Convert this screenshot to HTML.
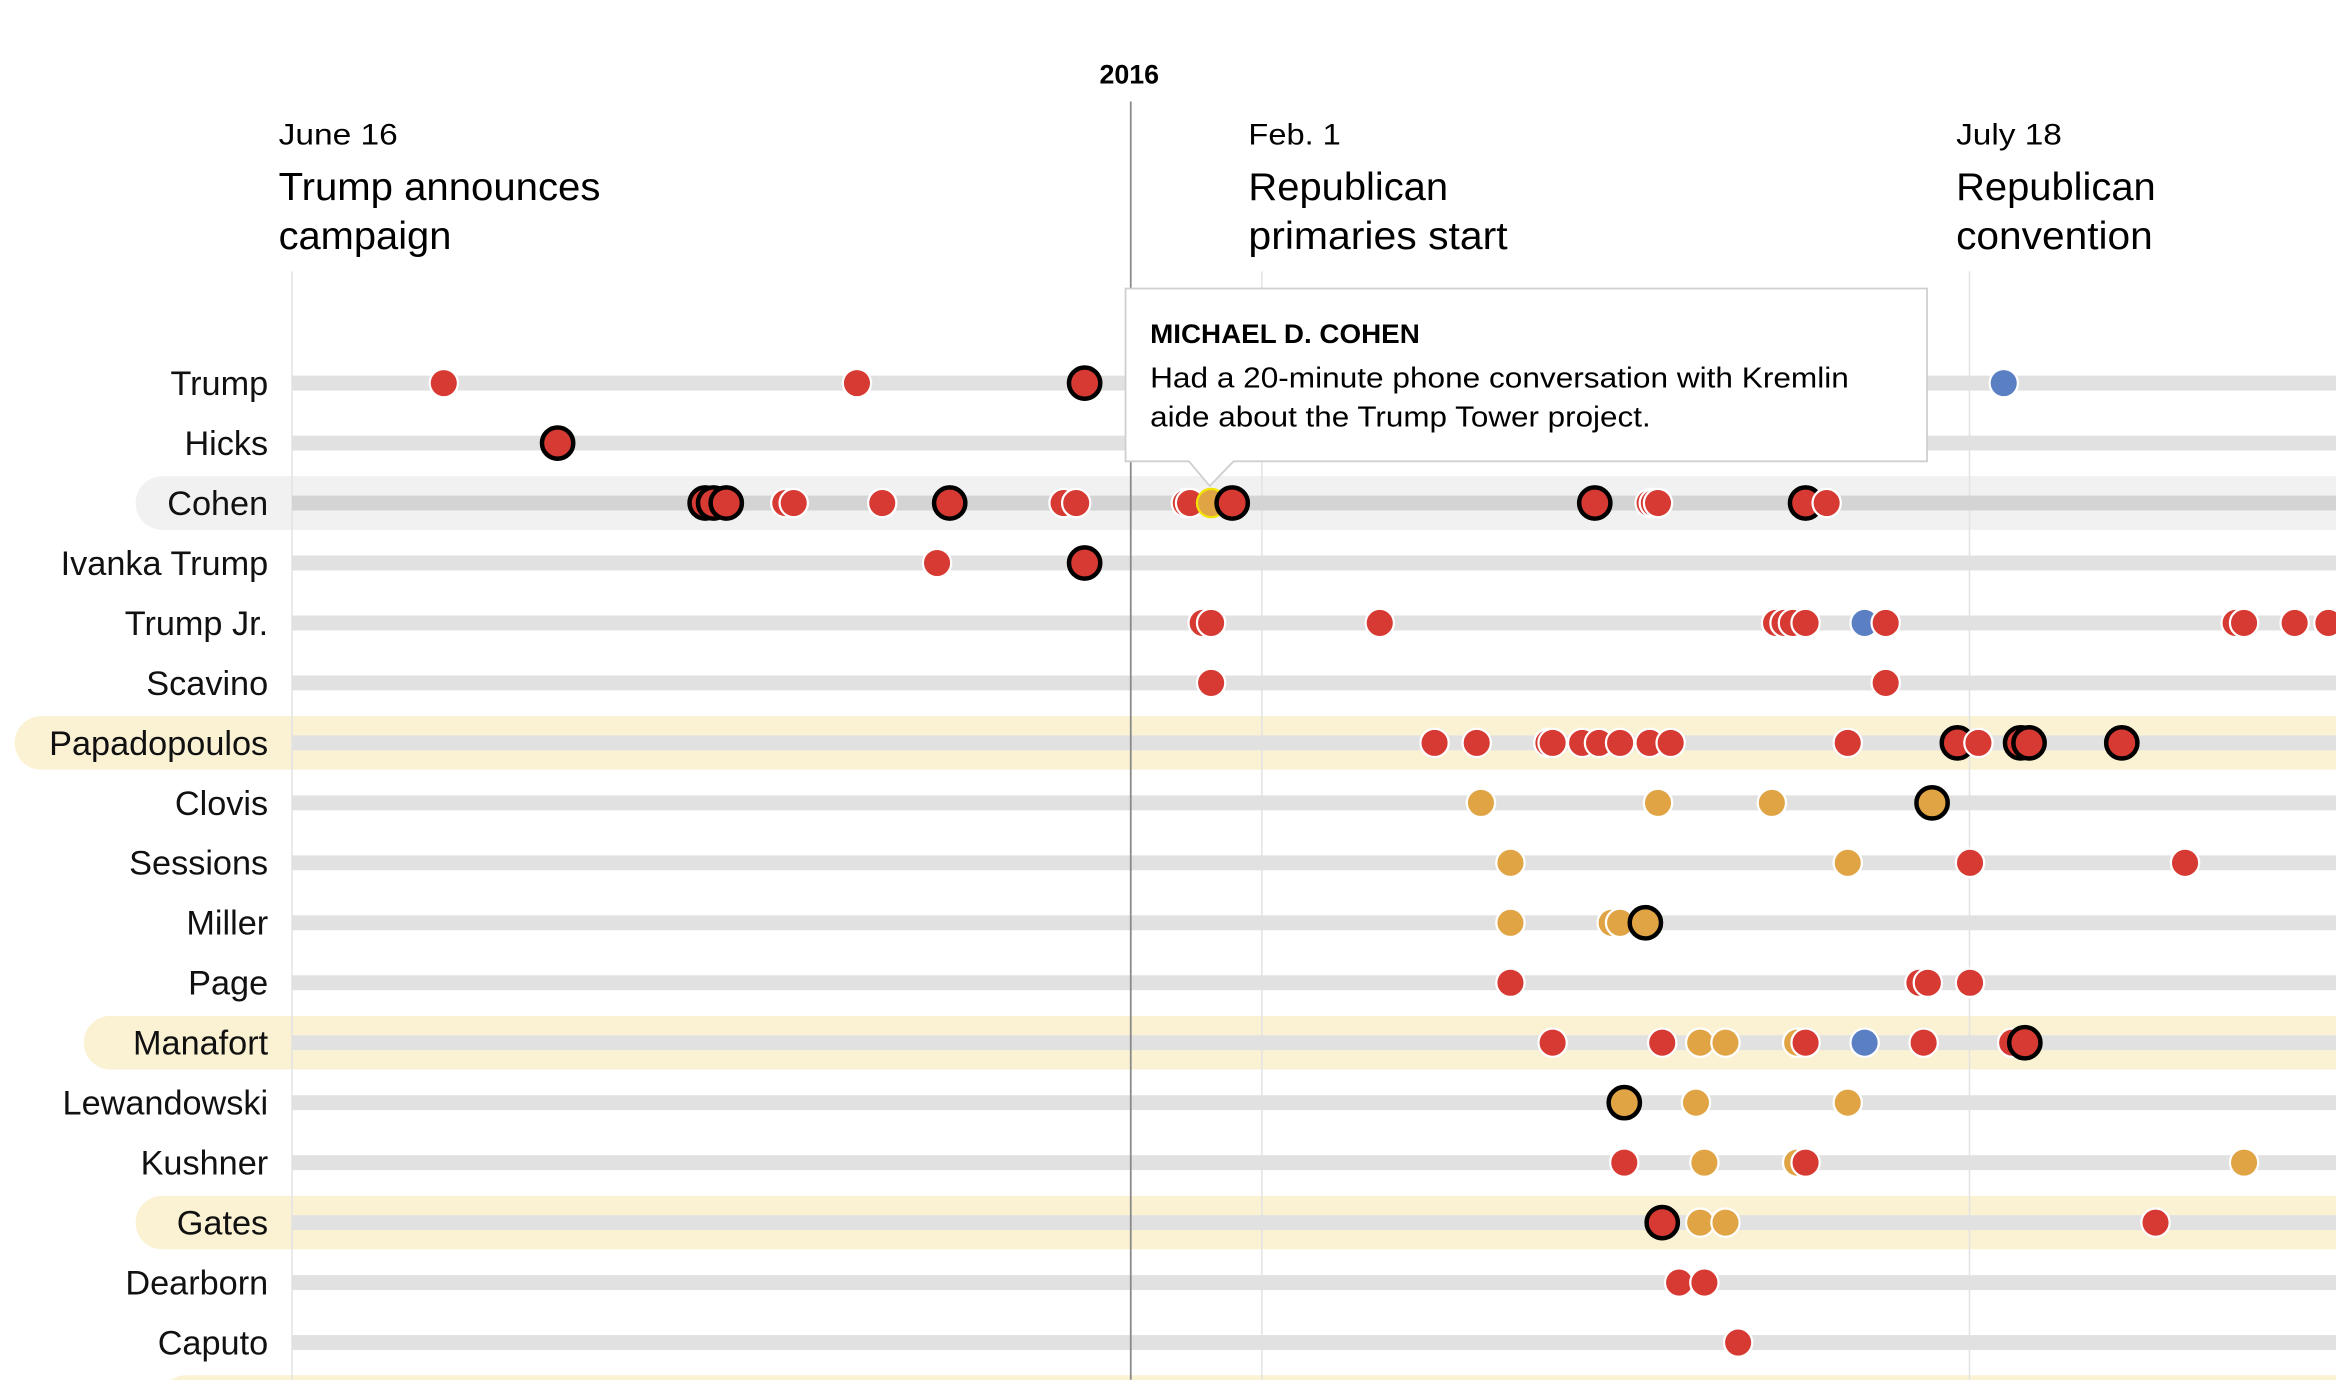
<!DOCTYPE html>
<html><head><meta charset="utf-8"><style>
html,body{margin:0;padding:0;background:#fff;}
svg{display:block;font-family:"Liberation Sans",sans-serif;}
</style></head><body>
<svg id="chart" width="2336" height="1380" viewBox="0 0 1568 926" xmlns="http://www.w3.org/2000/svg">
<g id="bands"></g>
<g id="grid">
<line x1="196" y1="182" x2="196" y2="926" stroke="#e2e2e2" stroke-width="1"/>
<line x1="847" y1="182" x2="847" y2="926" stroke="#e2e2e2" stroke-width="1"/>
<line x1="1322" y1="182" x2="1322" y2="926" stroke="#e2e2e2" stroke-width="1"/>
</g>
<g id="tracks"></g>
<line x1="759" y1="68" x2="759" y2="926" stroke="#8a8a8a" stroke-width="1.2"/>
<text x="758" y="56" text-anchor="middle" font-size="18" font-weight="bold">2016</text>
<g font-size="20">
<text x="187" y="97" textLength="80" lengthAdjust="spacingAndGlyphs">June 16</text>
<text x="187" y="134" font-size="26" textLength="216" lengthAdjust="spacingAndGlyphs">Trump announces</text>
<text x="187" y="167" font-size="26" textLength="116" lengthAdjust="spacingAndGlyphs">campaign</text>
</g>
<g font-size="20">
<text x="838" y="97" textLength="62" lengthAdjust="spacingAndGlyphs">Feb. 1</text>
<text x="838" y="134" font-size="26" textLength="134" lengthAdjust="spacingAndGlyphs">Republican</text>
<text x="838" y="167" font-size="26" textLength="174" lengthAdjust="spacingAndGlyphs">primaries start</text>
</g>
<g font-size="20">
<text x="1313" y="97" textLength="71" lengthAdjust="spacingAndGlyphs">July 18</text>
<text x="1313" y="134" font-size="26" textLength="134" lengthAdjust="spacingAndGlyphs">Republican</text>
<text x="1313" y="167" font-size="26" textLength="132" lengthAdjust="spacingAndGlyphs">convention</text>
</g>
<g id="labels"></g>
<g id="dots"></g>
<g>
<path d="M755.5,193.5 H1293.5 V309.5 H828 L812,326 L798,309.5 H755.5 Z" fill="#fff" stroke="#cfcfcf" stroke-width="1.2"/>
<text x="772" y="230" font-size="18" font-weight="bold" textLength="181" lengthAdjust="spacingAndGlyphs">MICHAEL D. COHEN</text>
<text x="772" y="260" font-size="19" textLength="469" lengthAdjust="spacingAndGlyphs">Had a 20-minute phone conversation with Kremlin</text>
<text x="772" y="286" font-size="19" textLength="336" lengthAdjust="spacingAndGlyphs">aide about the Trump Tower project.</text>
</g>
</svg>
<script>
const rowNames = ["Trump","Hicks","Cohen","Ivanka Trump","Trump Jr.","Scavino","Papadopoulos","Clovis","Sessions","Miller","Page","Manafort","Lewandowski","Kushner","Gates","Dearborn","Caputo"];
const rowHighlight = ["","","grey","","","","yellow","","","","","yellow","","","yellow","",""];
// days since June 16, 2015
const eventDays = [
 [36,134,188,406],
 [63],
 [98,100,103,117,119,140,156,183,186,212,213,218,223,309,322,323,324,359,364],
 [153,188],
 [216,218,258,352,354,356,359,373,378,461,463,475,483],
 [218,378],
 [271,281,298,299,306,310,315,322,327,369,395,400,410,412,434],
 [282,324,351,389],
 [289,369,398,449],
 [289,313,315,321],
 [289,386,388,398],
 [299,325,334,340,357,359,373,387,408,411],
 [316,333,369],
 [316,335,357,359,463],
 [325,334,340,442],
 [329,335],
 [343]
];
// r=red, o=orange, b=blue; K suffix = key (outlined) event
const eventTypes = [
 ["r","r","rK","b"],
 ["rK"],
 ["rK","rK","rK","r","r","r","rK","r","r","r","r","y","rK","rK","r","r","r","rK","r"],
 ["r","rK"],
 ["r","r","r","r","r","r","r","b","r","r","r","r","r"],
 ["r","r"],
 ["r","r","r","r","r","r","r","r","r","r","rK","r","rK","rK","rK"],
 ["o","o","o","oK"],
 ["o","o","r","r"],
 ["o","o","o","oK"],
 ["r","r","r","r"],
 ["r","r","o","o","o","r","b","r","r","rK"],
 ["oK","o","o"],
 ["r","o","o","r","o"],
 ["rK","o","o","r"],
 ["r","r"],
 ["r"]
];
const NS="http://www.w3.org/2000/svg";
function xScale(d){return 196 + d*2.83;}
function yScale(i){return 257 + i*40.25;}
const colors={r:"#d63a33",o:"#e0a445",b:"#5b7fc3",y:"#d63a33"};
const bands=document.getElementById("bands"),tracks=document.getElementById("tracks"),labels=document.getElementById("labels"),dots=document.getElementById("dots");
function mk(tag,attrs,parent){const e=document.createElementNS(NS,tag);for(const k in attrs)e.setAttribute(k,attrs[k]);parent.appendChild(e);return e;}
const nb=mk("rect",{x:107,y:923,width:1500,height:36,rx:18,fill:"#faf2d3"},bands);


rowNames.forEach((name,i)=>{
  const y=yScale(i);
  const h=rowHighlight[i];
  if(h){
    const tw = name.length*11.6+31;
    const bx = 180 - tw;
    const b=mk("rect",{x:bx,y:y-18,width:1600,height:36,rx:18,fill:h==="grey"?"#f1f1f1":"#faf2d3"},bands);
    
    
  }
  const t=mk("rect",{x:196,y:y-5,width:1372,height:10,fill:h==="grey"?"#d4d4d4":"#e1e1e1"},tracks);
  
  
  const l=mk("text",{x:180,y:y+8,"text-anchor":"end","font-size":"23",fill:"#111"},labels);
  l.textContent=name;
  
  
  eventDays[i].forEach((d,j)=>{
    const ty=eventTypes[i][j];
    const key=ty.endsWith("K");
    const c=colors[ty[0]];
    const cx=xScale(d);
    const circ=mk("circle",key?{cx:cx,cy:y,r:10.5,fill:c,stroke:"#000","stroke-width":3}:{cx:cx,cy:y,r:9.5,fill:ty==="y"?"#e0a445":c,stroke:ty==="y"?"#f2e400":"#fff","stroke-width":1.5},dots);
    
    
  });
});
</script>
</body></html>
